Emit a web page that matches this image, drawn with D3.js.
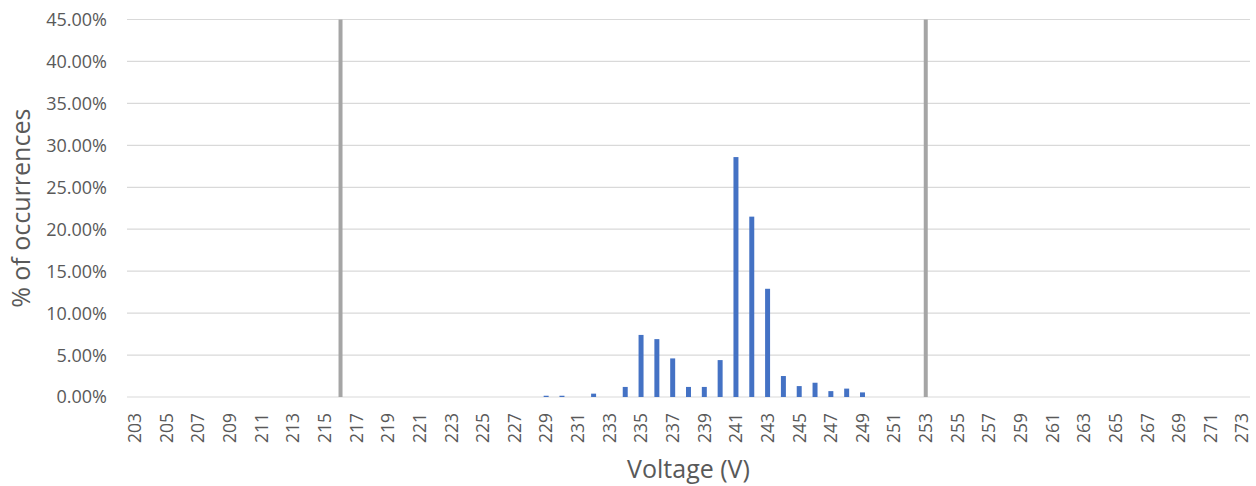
<!DOCTYPE html>
<html>
<head>
<meta charset="utf-8">
<script src="https://cdn.jsdelivr.net/npm/d3@7"></script>
<style>
  html, body { margin: 0; padding: 0; background: #fff; }
  svg { display: block; font-family: "Open Sans", "Liberation Sans", sans-serif; }
</style>
</head>
<body>
<svg id="chart" width="1256" height="486"></svg>
<script>
// Voltage bins (V), one per integer from 203 to 273
const voltages = d3.range(203, 274);

// Share of readings per voltage bin (%), bins not listed are 0
const occurrenceBins = [229, 230, 232, 234, 235, 236, 237, 238, 239, 240, 241, 242, 243, 244, 245, 246, 247, 248, 249];
const occurrencePct  = [0.15, 0.15, 0.4, 1.2, 7.4, 6.9, 4.6, 1.2, 1.2, 4.4, 28.6, 21.5, 12.9, 2.5, 1.3, 1.7, 0.7, 1.0, 0.55];

// Statutory voltage limits drawn as vertical markers
const limitVoltages = [216, 253];

// Axis ticks
const yTicks = [0, 5, 10, 15, 20, 25, 30, 35, 40, 45];
const xTickLabels = voltages.filter((v, i) => i % 2 === 0);

const valueByVoltage = new Map(occurrenceBins.map((v, i) => [v, occurrencePct[i]]));
const data = voltages.map(v => ({ v, pct: valueByVoltage.get(v) || 0 }));

const svg = d3.select("#chart");
const margin = { left: 127, right: 6, top: 19.5, bottom: 89 };
const W = 1256, H = 486;

const x = d3.scaleBand()
  .domain(voltages)
  .range([margin.left, W - margin.right])
  .paddingInner(0.685)
  .paddingOuter(0.3425);

const xc = d3.scaleBand().domain(voltages).range([margin.left, W - margin.right]);

const y = d3.scaleLinear()
  .domain([0, 45])
  .range([H - margin.bottom, margin.top]);

const textColor = "#595959";

// Horizontal gridlines
svg.append("g")
  .selectAll("line")
  .data(yTicks)
  .join("line")
  .attr("x1", margin.left)
  .attr("x2", W - margin.right)
  .attr("y1", d => y(d))
  .attr("y2", d => y(d))
  .attr("stroke", "#d9d9d9")
  .attr("stroke-width", 1.2);

// Y tick labels
svg.append("g")
  .selectAll("text")
  .data(yTicks)
  .join("text")
  .attr("x", 107)
  .attr("y", d => y(d))
  .attr("dy", "0.36em")
  .attr("text-anchor", "end")
  .attr("font-size", 18)
  .attr("fill", textColor)
  .text(d => d.toFixed(2) + "%");

// Bars
svg.append("g")
  .selectAll("rect")
  .data(data.filter(d => d.pct > 0))
  .join("rect")
  .attr("x", d => x(d.v))
  .attr("width", x.bandwidth())
  .attr("y", d => y(d.pct))
  .attr("height", d => y(0) - y(d.pct))
  .attr("fill", "#4472c4");

// Limit markers
svg.append("g")
  .selectAll("line")
  .data(limitVoltages)
  .join("line")
  .attr("x1", d => xc(d) + xc.bandwidth() / 2)
  .attr("x2", d => xc(d) + xc.bandwidth() / 2)
  .attr("y1", y(45))
  .attr("y2", y(0))
  .attr("stroke", "#a5a5a5")
  .attr("stroke-width", 4);

// X tick labels (rotated)
svg.append("g")
  .selectAll("text")
  .data(xTickLabels)
  .join("text")
  .attr("transform", d => `translate(${xc(d) + xc.bandwidth() / 2},413) rotate(-90)`)
  .attr("dy", "0.36em")
  .attr("text-anchor", "end")
  .attr("font-size", 17.5)
  .attr("fill", textColor)
  .text(d => d);

// Axis titles
svg.append("text")
  .attr("x", (margin.left + W - margin.right) / 2)
  .attr("y", 478)
  .attr("text-anchor", "middle")
  .attr("font-size", 25)
  .attr("fill", textColor)
  .text("Voltage (V)");

svg.append("text")
  .attr("transform", `translate(21,${(y(0) + y(45)) / 2}) rotate(-90)`)
  .attr("dy", "0.36em")
  .attr("text-anchor", "middle")
  .attr("font-size", 25)
  .attr("fill", textColor)
  .text("% of occurrences");
</script>
</body>
</html>
